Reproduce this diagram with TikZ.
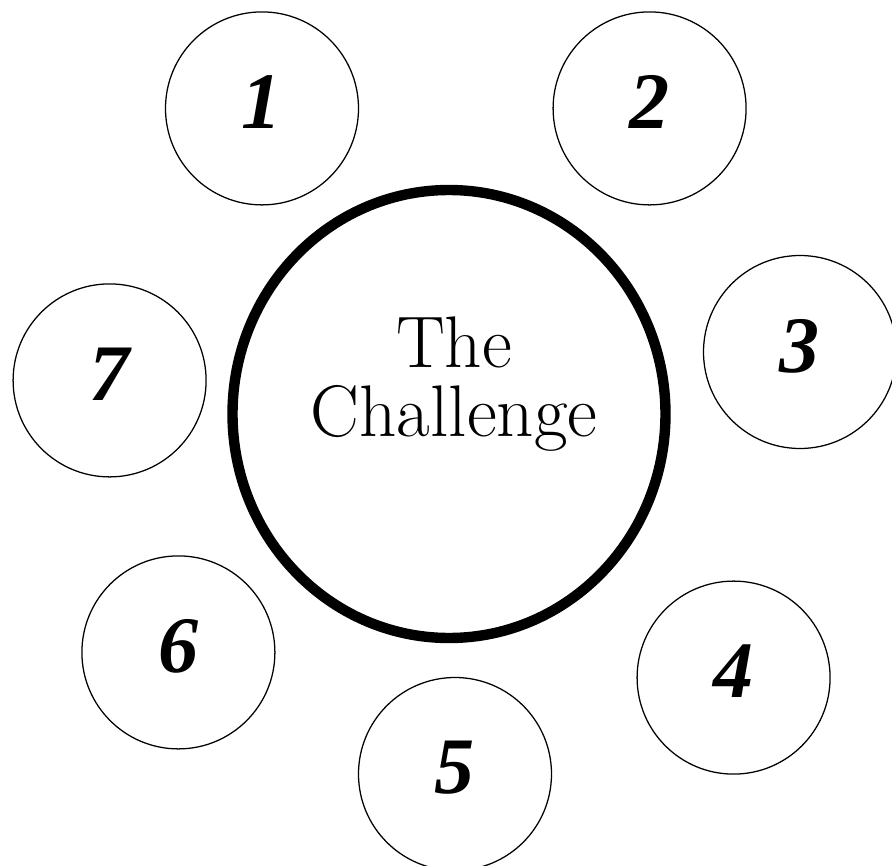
\documentclass[tikz,border=0pt]{standalone}
\usepackage{fontspec}
\newfontfamily\numfont{Liberation Serif}
\usepackage{tikz}
\usetikzlibrary{shapes.geometric}

\begin{document}
\begin{tikzpicture}[
    hub/.style={draw, ellipse, line width=7.4pt, minimum width=10.825cm,
      minimum height=11.2cm, inner sep=0pt},
    ring/.style={draw, circle, line width=0.9pt, minimum size=4.825cm,
      inner sep=0pt, text depth=9pt,
      font=\numfont\bfseries\itshape\fontsize{57}{62}\selectfont},
    lbl/.style={align=center, font=\fontsize{52}{48.5}\selectfont},
  ]
    \useasboundingbox (0, 0) rectangle (22.3, -21.65);

    % ═══ Centre ═══
    \node[hub] (challenge) at (11.225, -10.35) {};
    \node[lbl] (title) at (11.35, -9.6) {The\\Challenge};

    % ═══ Numbered rings ═══
    \node[ring] (r1) at (6.55, -2.71) {1};
    \node[ring] (r2) at (16.24, -2.71) {2};
    \node[ring] (r3) at (20.0, -8.8) {3};
    \node[ring] (r4) at (18.34, -16.94) {4};
    \node[ring] (r5) at (11.375, -19.35) {5};
    \node[ring] (r6) at (4.46, -16.31) {6};
    \node[ring] (r7) at (2.74, -9.51) {7};
\end{tikzpicture}
\end{document}
